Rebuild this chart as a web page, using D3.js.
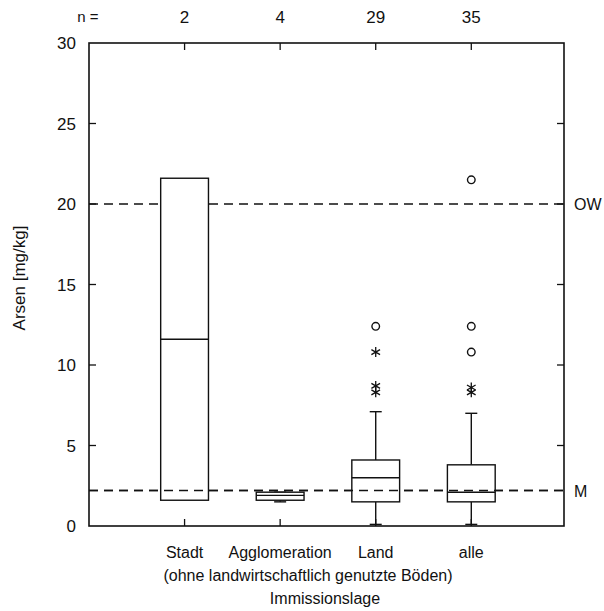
<!DOCTYPE html>
<html>
<head>
<meta charset="utf-8">
<script src="https://cdn.jsdelivr.net/npm/d3@7"></script>
<style>
  body { margin: 0; background: #fff; }
  text { font-family: "Liberation Sans", Arial, sans-serif; fill: #111; }
</style>
</head>
<body>
<svg id="chart"></svg>
<script>
// categories and counts
const categories = ["Stadt", "Agglomeration", "Land", "alle"];
const counts = [2, 4, 29, 35];

// box statistics (mg/kg)
const whiskerLow = [null, 1.5, 0.1, 0.1];
const q1 = [1.6, 1.6, 1.5, 1.5];
const medians = [11.6, 1.9, 3.0, 2.1];
const q3 = [21.6, 2.1, 4.1, 3.8];
const whiskerHigh = [null, 2.1, 7.1, 7.0];

// outliers: circles and extremes (stars)
const circleOutliers = [[], [], [12.4], [12.4, 10.8, 21.5]];
const starOutliers = [[], [], [10.8, 8.7, 8.3], [8.6, 8.3]];

// reference lines
const refValues = [20, 2.2];
const refLabels = ["OW", "M"];

const yTicks = [0, 5, 10, 15, 20, 25, 30];

const width = 604, height = 611;
const mLeft = 89, mRight = 564, mTop = 43, mBottom = 526;

const svg = d3.select("#chart").attr("width", width).attr("height", height);

const x = d3.scaleLinear().domain([0, 4.97]).range([mLeft, mRight]);
const y = d3.scaleLinear().domain([0, 30]).range([mBottom, mTop]);
const boxW = x(0.5) - x(0);

// reference dashed lines
svg.selectAll("line.ref")
  .data(refValues)
  .enter().append("line")
  .attr("x1", mLeft).attr("x2", mRight)
  .attr("y1", d => y(d)).attr("y2", d => y(d))
  .attr("stroke", "#111").attr("stroke-width", 1.5)
  .attr("stroke-dasharray", "9,6");

svg.selectAll("text.ref")
  .data(refValues)
  .enter().append("text")
  .attr("x", mRight + 10).attr("y", d => y(d) + 6)
  .attr("font-size", 16)
  .text((d, i) => refLabels[i]);

// frame
svg.append("rect")
  .attr("x", mLeft).attr("y", mTop)
  .attr("width", mRight - mLeft).attr("height", mBottom - mTop)
  .attr("fill", "none").attr("stroke", "#111").attr("stroke-width", 1.6);

// y ticks (inside, both sides)
yTicks.forEach(t => {
  if (t > 0 && t < 30) {
    svg.append("line").attr("x1", mLeft).attr("x2", mLeft + 7)
      .attr("y1", y(t)).attr("y2", y(t)).attr("stroke", "#111").attr("stroke-width", 1.3);
    svg.append("line").attr("x1", mRight - 7).attr("x2", mRight)
      .attr("y1", y(t)).attr("y2", y(t)).attr("stroke", "#111").attr("stroke-width", 1.3);
  }
  svg.append("text")
    .attr("x", mLeft - 13).attr("y", y(t) + 6)
    .attr("text-anchor", "end").attr("font-size", 17)
    .text(t);
});

// x ticks (inside, top and bottom)
categories.forEach((c, i) => {
  const cx = x(i + 1);
  svg.append("line").attr("x1", cx).attr("x2", cx)
    .attr("y1", mTop).attr("y2", mTop + 7).attr("stroke", "#111").attr("stroke-width", 1.3);
  svg.append("line").attr("x1", cx).attr("x2", cx)
    .attr("y1", mBottom - 7).attr("y2", mBottom).attr("stroke", "#111").attr("stroke-width", 1.3);
});

// n labels
svg.append("text").attr("x", 88).attr("y", 22)
  .attr("text-anchor", "middle").attr("font-size", 15).text("n =");
svg.selectAll("text.n")
  .data(counts)
  .enter().append("text")
  .attr("x", (d, i) => x(i + 1)).attr("y", 23)
  .attr("text-anchor", "middle").attr("font-size", 17)
  .text(d => d);

// boxes
categories.forEach((c, i) => {
  const cx = x(i + 1);
  const g = svg.append("g");
  if (whiskerHigh[i] !== null) {
    g.append("line").attr("x1", cx).attr("x2", cx)
      .attr("y1", y(q3[i])).attr("y2", y(whiskerHigh[i]))
      .attr("stroke", "#111").attr("stroke-width", 1.4);
    g.append("line").attr("x1", cx).attr("x2", cx)
      .attr("y1", y(q1[i])).attr("y2", y(whiskerLow[i]))
      .attr("stroke", "#111").attr("stroke-width", 1.4);
    [whiskerHigh[i], whiskerLow[i]].forEach(v => {
      g.append("line").attr("x1", cx - 6).attr("x2", cx + 6)
        .attr("y1", y(v)).attr("y2", y(v))
        .attr("stroke", "#111").attr("stroke-width", 1.4);
    });
  }
  g.append("rect")
    .attr("x", cx - boxW / 2).attr("y", y(q3[i]))
    .attr("width", boxW).attr("height", y(q1[i]) - y(q3[i]))
    .attr("fill", "#fff").attr("stroke", "#111").attr("stroke-width", 1.4);
  g.append("line").attr("x1", cx - boxW / 2).attr("x2", cx + boxW / 2)
    .attr("y1", y(medians[i])).attr("y2", y(medians[i]))
    .attr("stroke", "#111").attr("stroke-width", 1.4);

  circleOutliers[i].forEach(v => {
    g.append("circle").attr("cx", cx).attr("cy", y(v)).attr("r", 3.8)
      .attr("fill", "none").attr("stroke", "#111").attr("stroke-width", 1.4);
  });
  starOutliers[i].forEach(v => {
    g.append("path")
      .attr("transform", `translate(${cx},${y(v)})`)
      .attr("d", d3.symbol().type(d3.symbolAsterisk).size(70)())
      .attr("fill", "none").attr("stroke", "#111").attr("stroke-width", 1.3);
  });
});

// reference line M redrawn over the boxes
svg.append("line")
  .attr("x1", mLeft).attr("x2", mRight)
  .attr("y1", y(refValues[1])).attr("y2", y(refValues[1]))
  .attr("stroke", "#111").attr("stroke-width", 1.5)
  .attr("stroke-dasharray", "9,6");

// x labels
categories.forEach((c, i) => {
  svg.append("text")
    .attr("x", x(i + 1)).attr("y", 558)
    .attr("text-anchor", "middle").attr("font-size", 16)
    .text(c);
});
svg.append("text").attr("x", 308).attr("y", 581)
  .attr("text-anchor", "middle").attr("font-size", 16)
  .text("(ohne landwirtschaftlich genutzte Böden)");
svg.append("text").attr("x", 325).attr("y", 604)
  .attr("text-anchor", "middle").attr("font-size", 16)
  .text("Immissionslage");

// y title
svg.append("text")
  .attr("transform", `translate(25,278) rotate(-90)`)
  .attr("text-anchor", "middle").attr("font-size", 17)
  .text("Arsen [mg/kg]");
</script>
</body>
</html>
